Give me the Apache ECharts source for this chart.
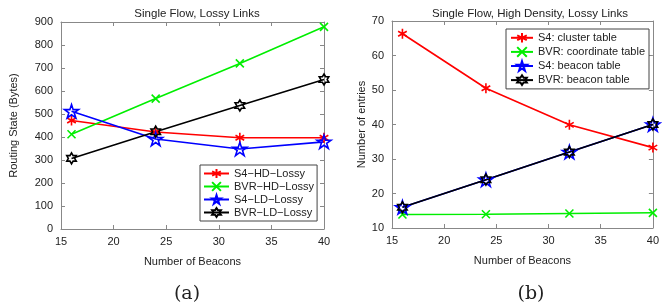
<!DOCTYPE html>
<html>
<head>
<meta charset="utf-8">
<script src="https://cdn.jsdelivr.net/npm/echarts@6/dist/echarts.min.js"></script>
<style>
  html, body { margin: 0; padding: 0; background: #fff; }
  #chart { width: 662px; height: 307px; }
</style>
</head>
<body>
<div id="chart"></div>
<script>
// beacon counts on the x axis (both panels)
const beacons = [16, 24, 32, 40];

// (a) routing state in bytes
const s4HD = [472, 422, 397, 397];
const bvrHD = [412, 567, 720, 879];
const s4LD = [512, 391, 348, 379];
const bvrLD = [307, 423, 537, 650];

// (b) number of entries
const s4Cluster = [66.3, 50.5, 39.9, 33.3];
const bvrCoord = [13.9, 14.0, 14.2, 14.4];
const s4Beacon = [16, 24, 32, 40];
const bvrBeacon = [16, 24, 32, 40];

const namesA = ["S4\u2212HD\u2212Lossy", "BVR\u2212HD\u2212Lossy", "S4\u2212LD\u2212Lossy", "BVR\u2212LD\u2212Lossy"];
const namesB = ["S4: cluster table", "BVR: coordinate table", "S4: beacon table", "BVR: beacon table"];

// marker shapes (stroked only, like matlab markers)
const SYM_AST = "path://M0,-1L0,1M-0.866,-0.5L0.866,0.5M-0.866,0.5L0.866,-0.5";
const SYM_X = "path://M-1,-1L1,1M-1,1L1,-1";
const SYM_PENT = "path://M0,-1L0.2245,-0.309L0.9511,-0.309L0.3633,0.118L0.5878,0.809L0,0.382L-0.5878,0.809L-0.3633,0.118L-0.9511,-0.309L-0.2245,-0.309Z";
const SYM_HEX = "path://M0,-1L0.2887,-0.5L0.866,-0.5L0.5774,0L0.866,0.5L0.2887,0.5L0,1L-0.2887,0.5L-0.866,0.5L-0.5774,0L-0.866,-0.5L-0.2887,-0.5Z";

const font = "Liberation Sans, Arial, sans-serif";
const txt = "#222";
const axisCol = "#888";

const pair = (arr) => beacons.map((b, i) => [b, arr[i]]);

function mkSeries(name, data, color, symbol, size, xi, yi) {
  return {
    name: name,
    type: "line",
    xAxisIndex: xi,
    yAxisIndex: yi,
    data: pair(data),
    symbol: symbol,
    symbolSize: size,
    symbolKeepAspect: true,
    lineStyle: { color: color, width: 1.6 },
    itemStyle: { color: "rgba(0,0,0,0)", borderColor: color, borderWidth: 1.6 },
    emphasis: { disabled: true },
    animation: false
  };
}

function mkX(gi, pos, show) {
  return {
    type: "value", gridIndex: gi, position: pos, min: 15, max: 40, interval: 5,
    name: show ? "Number of Beacons" : "",
    nameLocation: "middle", nameGap: 27,
    nameTextStyle: { fontFamily: font, fontSize: 11, color: txt },
    axisLine: { show: true, onZero: false, lineStyle: { color: axisCol } },
    axisTick: { show: true, inside: true, length: 4, lineStyle: { color: axisCol } },
    axisLabel: { show: show, fontFamily: font, fontSize: 11, color: txt, margin: 7 },
    splitLine: { show: false }
  };
}

function mkY(gi, pos, show, min, max, iv, name, gap) {
  return {
    type: "value", gridIndex: gi, position: pos, min: min, max: max, interval: iv,
    name: show ? name : "",
    nameLocation: "middle", nameGap: gap,
    nameTextStyle: { fontFamily: font, fontSize: 11, color: txt },
    axisLine: { show: true, onZero: false, lineStyle: { color: axisCol } },
    axisTick: { show: true, inside: true, length: 4, lineStyle: { color: axisCol } },
    axisLabel: { show: show, fontFamily: font, fontSize: 11, color: txt, margin: 8 },
    splitLine: { show: false }
  };
}

const chart = echarts.init(document.getElementById("chart"));
chart.setOption({
  backgroundColor: "#fff",
  animation: false,
  title: [
    { text: "Single Flow, Lossy Links", left: 192, top: 3, textAlign: "center",
      textStyle: { fontFamily: font, fontSize: 11.5, fontWeight: "normal", color: txt } },
    { text: "Single Flow, High Density, Lossy Links", left: 525, top: 3, textAlign: "center",
      textStyle: { fontFamily: font, fontSize: 11.5, fontWeight: "normal", color: txt } },
    { text: "(a)", left: 182, top: 280, textAlign: "center",
      textStyle: { fontFamily: "DejaVu Serif, Liberation Serif, serif", fontSize: 19, fontWeight: "normal", color: txt } },
    { text: "(b)", left: 526, top: 280, textAlign: "center",
      textStyle: { fontFamily: "DejaVu Serif, Liberation Serif, serif", fontSize: 19, fontWeight: "normal", color: txt } }
  ],
  grid: [
    { left: 61, top: 22, width: 263, height: 207, show: false },
    { left: 392, top: 21, width: 265, height: 207, show: false }
  ],
  xAxis: [mkX(0, "bottom", true), mkX(0, "top", false), mkX(1, "bottom", true), mkX(1, "top", false)],
  yAxis: [
    mkY(0, "left", true, 0, 900, 100, "Routing State (Bytes)", 42),
    mkY(0, "right", false, 0, 900, 100, "", 0),
    mkY(1, "left", true, 10, 70, 10, "Number of entries", 25),
    mkY(1, "right", false, 10, 70, 10, "", 0)
  ],
  legend: [
    { data: namesA, orient: "vertical", left: 200, top: 165, itemWidth: 25, itemHeight: 11, itemGap: 2,
      padding: [3, 3, 3, 3], borderColor: "#444", borderWidth: 1, backgroundColor: "#fff",
      selectedMode: false, textStyle: { fontFamily: font, fontSize: 11, color: txt } },
    { data: namesB, orient: "vertical", left: 506, top: 29, itemWidth: 22, itemHeight: 12, itemGap: 2.5,
      padding: [3, 4, 3, 4], borderColor: "#444", borderWidth: 1, backgroundColor: "#fff",
      selectedMode: false, textStyle: { fontFamily: font, fontSize: 11, color: txt } }
  ],
  series: [
    mkSeries(namesA[0], s4HD, "#ff0000", SYM_AST, 10, 0, 0),
    mkSeries(namesA[1], bvrHD, "#00ee00", SYM_X, 8, 0, 0),
    mkSeries(namesA[2], s4LD, "#0000ff", SYM_PENT, 14, 0, 0),
    mkSeries(namesA[3], bvrLD, "#000000", SYM_HEX, 11, 0, 0),
    mkSeries(namesB[0], s4Cluster, "#ff0000", SYM_AST, 10, 2, 2),
    mkSeries(namesB[1], bvrCoord, "#00ee00", SYM_X, 8, 2, 2),
    mkSeries(namesB[2], s4Beacon, "#0000ff", SYM_PENT, 14, 2, 2),
    mkSeries(namesB[3], bvrBeacon, "#000000", SYM_HEX, 11, 2, 2)
  ]
});
</script>
</body>
</html>
